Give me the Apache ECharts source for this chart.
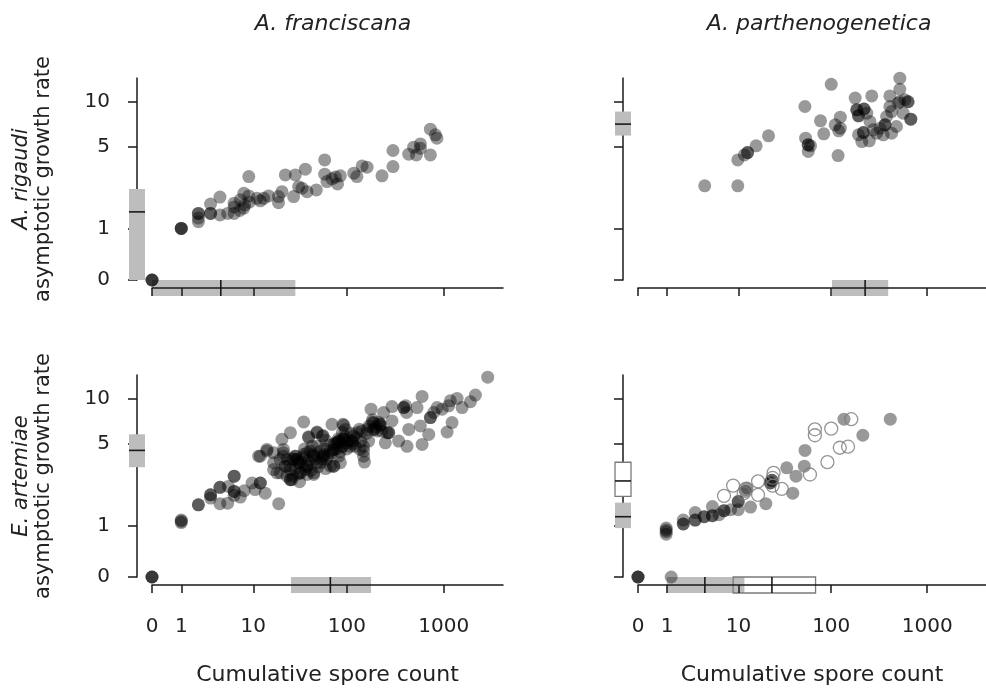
<!DOCTYPE html>
<html>
<head>
<meta charset="utf-8">
<script src="https://cdn.jsdelivr.net/npm/echarts@6/dist/echarts.min.js"></script>
<style>
html, body { margin: 0; padding: 0; background: #fff; }
#chart { width: 986px; height: 691px; }
</style>
</head>
<body>
<div id="chart"></div>
<script>
// tick positions / labels (values on the original scale, plotted as log10(v + 1))
const xTickVals = [0, 1, 10, 100, 1000];
const xTickLabels = ["0", "1", "10", "100", "1000"];
const yTickVals = [0, 1, 5, 10];
const yTickLabels = ["0", "1", "5", "10"];

const colTitles = ["A. franciscana", "A. parthenogenetica"];
const rowTitles = ["A. rigaudi", "E. artemiae"];
const yName = "asymptotic growth rate";
const xName = "Cumulative spore count";

// [cumulative spore count, asymptotic growth rate]
const franRigaudi = [
    [0, 0], [0, 0], [0, 0],
    [1, 1.0], [1, 1.0], [1, 1.0],
    [2, 1.45], [2, 1.45], [2, 1.19], [2, 1.3],
    [3, 1.45], [3, 1.45], [3, 1.78],
    [4, 2.05], [4, 1.4],
    [5, 1.45], [6, 1.45], [6, 1.81], [6, 1.67],
    [7.1, 1.94], [7.8, 2.21], [7.8, 1.63], [7, 1.55], [8, 1.75],
    [8.9, 3.02], [8.9, 2.1], [9, 1.85],
    [11, 2.0], [13.1, 2.0], [14.8, 2.1], [12, 1.9],
    [19, 2.07], [19, 1.83], [20.7, 2.28], [22.5, 3.11],
    [27.6, 2.07], [28.8, 3.11], [31.2, 2.51], [33.9, 2.44], [36.8, 3.44], [38.3, 2.28],
    [48, 2.36], [58.7, 4.03], [58.7, 3.15], [62, 2.76], [75.9, 2.99], [80, 2.64], [85.5, 3.06], [70, 2.9],
    [118, 3.21], [127, 3.02], [144, 3.64], [162, 3.56], [231, 3.06],
    [300, 4.71], [300, 3.6], [436, 4.43], [490, 4.97], [523, 4.38], [575, 5.24], [575, 4.88],
    [729, 4.38], [729, 6.6], [821, 6.05], [850, 5.74]
];

const parthRigaudi = [
    [3.92, 2.55], [9.84, 2.55], [9.84, 4.03], [11.7, 4.38], [12.7, 4.55], [12.7, 4.55], [15.8, 5.08], [21.6, 5.95],
    [52.9, 9.32], [53.8, 5.74], [57.3, 5.16], [57.3, 5.16], [57.3, 4.63], [60.7, 5.08], [77.2, 7.51], [83.5, 6.14],
    [100, 12.9], [110, 7.06], [118, 4.33], [120, 6.44], [124.6, 7.94], [124.6, 6.71],
    [178, 10.55], [185, 8.86], [185, 8.86], [193, 8.1], [193, 8.1], [193, 6.05], [209, 5.44], [217, 6.27], [217, 6.27],
    [220, 8.96], [220, 8.96], [235, 8.43],
    [250, 5.5], [254, 7.43], [265, 10.9], [275, 6.54], [298, 6.21], [323, 6.71], [349, 6.05], [364, 7.06], [364, 7.06], [378, 8.02],
    [409, 10.9], [409, 9.32], [426, 8.64], [426, 6.21], [479, 6.88], [519, 14.1], [519, 12.0], [519, 10.0], [562, 8.43],
    [585, 10.3], [632, 10.0], [632, 10.0], [675, 7.7], [675, 7.7], [499, 9.8]
];

const franArtemiae = [
    [0, 0], [0, 0], [0, 0],
    [1, 1.15], [1, 1.08], [1, 1.12],
    [2, 1.64], [2, 1.64],
    [3, 2.02], [3, 2.02], [3, 1.89],
    [4, 1.68], [4, 2.34], [4, 2.34],
    [5, 1.7], [5.1, 2.38],
    [6, 2.88], [6, 2.88], [6, 2.16], [6, 2.16], [6, 2.0],
    [7.1, 1.93], [7.9, 2.19],
    [9.7, 2.54], [10.5, 2.24], [12, 2.54], [12, 2.54], [13.6, 2.09], [19.1, 1.68],
    [16.8, 3.24], [16.8, 4.31], [11.5, 4.08], [14.2, 4.44], [20.7, 5.37], [25.5, 5.97], [35.3, 7.05],
    [39.8, 5.6], [48.8, 6.03], [56.4, 5.7], [70, 6.8], [91, 6.8], [96.4, 6.28], [118, 5.65],
    [149, 4.8], [152, 3.69], [178, 8.56], [240, 8.14], [250, 5.08], [293, 8.9], [293, 7.16], [343, 5.22],
    [387, 8.77], [387, 8.77], [419, 4.8], [436, 6.28], [531, 8.77], [575, 6.63], [599, 10.35], [599, 4.95],
    [701, 5.81], [729, 7.54], [729, 7.54], [788, 8.14], [854, 8.77], [963, 8.56], [1083, 6.03], [1124, 9.0],
    [1171, 9.7], [1218, 6.98], [1373, 10.04], [1545, 8.77], [1883, 9.56], [2119, 10.56], [2836, 13.7],
    [39.8, 5.52], [48.8, 5.97], [55.6, 5.65], [93, 6.7], [82.6, 5.22], [82.6, 5.22], [113, 5.22], [113, 5.22],
    [143, 6.13], [149, 4.44], [182, 6.98], [205, 6.13], [221, 6.8], [221, 6.8], [271, 5.97], [271, 5.97],
    [405, 9.0], [414, 8.14],
    [21.5, 4.31], [23.5, 3.86], [25.5, 3.24], [26.5, 2.7], [28.8, 4.08], [28.8, 4.08], [31.2, 3.65], [31.2, 3.65],
    [36.7, 3.24], [38.3, 4.31], [43.3, 4.8], [45.1, 3.06], [48.8, 3.65], [57, 4.08], [57, 4.08], [67.5, 3.44],
    [72.9, 4.56], [72.9, 4.56], [82.6, 4.08], [89.5, 4.8], [89.5, 4.8], [100, 5.08], [122, 4.8], [168, 5.22],
    [190, 6.28], [190, 6.28], [22.5, 3.44], [19.9, 3.06],
    [12, 4.08], [14.2, 4.56], [16.8, 3.65], [19.8, 3.86], [21.5, 4.08], [22.5, 3.44], [23.5, 2.88], [18.3, 3.06],
    [25.5, 2.7], [25.5, 2.7], [30, 3.86], [30, 3.86], [32.5, 3.06], [32.5, 3.06], [38.3, 2.97], [45.1, 2.97],
    [53.5, 3.65], [61.9, 3.86], [72.9, 3.44], [72.9, 3.44], [85.6, 3.65], [67.5, 4.44], [79, 5.08], [79, 5.08],
    [92.5, 5.37], [92.5, 5.37], [108, 4.8], [137, 4.56], [149, 4.08], [128, 5.97], [162, 6.28], [190, 6.98],
    [221, 6.63], [260, 5.97], [35.3, 4.2], [41.7, 4.44], [48.8, 4.8], [57, 4.2], [45, 4.08], [45, 4.08],
    [38.3, 3.44], [38.3, 3.44], [27.6, 3.86], [21.5, 4.56],
    [25, 3.5], [27, 3.9], [29, 3.3], [31, 3.0], [33, 3.7], [35, 4.0], [37, 3.5], [40, 3.8], [42, 3.2], [44, 4.2],
    [47, 3.9], [50, 3.4], [52, 4.4], [55, 3.9], [58, 4.6], [60, 3.3], [63, 4.1], [66, 4.9], [70, 4.3], [74, 5.0],
    [78, 4.6], [81, 5.4], [85, 4.4], [88, 5.1], [95, 5.6], [100, 4.6], [105, 5.3], [110, 5.9], [115, 5.0], [125, 5.5],
    [135, 6.3], [140, 5.2], [160, 5.9], [170, 6.6], [185, 7.3], [200, 6.5], [215, 7.0], [230, 6.1], [32, 2.6], [27, 2.9],
    [36, 4.6], [60, 5.3], [90, 6.0]
];

const parthArtemiae = [
    [0, 0], [0, 0], [0, 0], [1.21, 0],
    [0.96, 0.93], [0.96, 0.84], [0.96, 0.78], [0.96, 0.88],
    [1.95, 1.15], [1.95, 1.04], [1.95, 1.04],
    [2.92, 1.38], [2.92, 1.15], [2.92, 1.15],
    [3.86, 1.25], [3.86, 1.25],
    [4.91, 1.58], [4.91, 1.28], [4.91, 1.28],
    [5.93, 1.31], [6.8, 1.44], [6.8, 1.44], [8.14, 1.47], [9.96, 1.47], [9.96, 1.76], [9.96, 1.76],
    [12.5, 2.31], [12, 2.16], [13.7, 1.56], [20.2, 1.68], [22.6, 2.54], [22.6, 2.54], [23.5, 2.67], [23.5, 2.67],
    [33.9, 3.34], [39.3, 2.09], [42.6, 2.88], [52.1, 3.44], [53, 4.49], [136, 7.35], [214, 5.73], [413, 7.35]
];

const parthArtemiaeOpen = [
    [6.8, 1.98], [8.7, 2.42], [11.5, 2.09], [12.1, 2.27], [16.6, 2.62], [16.6, 2.02], [24.5, 3.06], [23.9, 2.79],
    [23.9, 2.42], [30, 2.27], [59.8, 2.97], [67.4, 6.29], [67.4, 5.73], [91.3, 3.69], [100, 6.36], [123, 4.69],
    [150, 4.77], [162, 7.35]
];

// intervals: [direction (0 = growth axis, 1 = spore axis), lower, median, upper, open box]
const franRigaudiBars = [[0, 0, 1.5, 2.4, 0], [1, 0, 4.1, 28.8, 0]];
const parthRigaudiBars = [[0, 5.98, 7.14, 8.64, 0], [1, 102, 226, 393, 0]];
const franArtemiaeBars = [[0, 3.38, 4.49, 5.82, 0], [1, 25.9, 67.3, 178, 0]];
const parthArtemiaeBars = [
    [0, 0.93, 1.25, 1.72, 0], [0, 1.96, 2.64, 3.68, 1],
    [1, 0.99, 3.94, 11.7, 0], [1, 8.7, 23.5, 68.5, 1]
];

const FONT = '"DejaVu Sans", Verdana, sans-serif';
const INK = "#1a1a1a";
const TEXT = "#222";
const X_MAX = 3.61;
const Y_MAX = 1.18;
const X_OFFSET = 8;
const Y_OFFSET = 15;

function toLog(v) {
    return Math.log10(v + 1);
}

function tickLabel(vals, labels) {
    return function (v) {
        const i = vals.findIndex(t => Math.abs(toLog(t) - v) < 1e-6);
        return i >= 0 ? labels[i] : "";
    };
}

function renderBar(params, api) {
    const dir = api.value(0);
    const lo = api.value(1), med = api.value(2), hi = api.value(3);
    const open = api.value(4) === 1;
    const cs = params.coordSys;
    const half = 8;
    let rect, tick;
    if (dir === 0) {
        const ax = cs.x - Y_OFFSET;
        const yHi = api.coord([0, hi])[1];
        const yLo = api.coord([0, lo])[1];
        const yMed = api.coord([0, med])[1];
        rect = { x: ax - half, y: yHi, width: half * 2, height: yLo - yHi };
        tick = { x1: ax - half, y1: yMed, x2: ax + half, y2: yMed };
    } else {
        const ay = cs.y + cs.height + X_OFFSET;
        const xLo = api.coord([lo, 0])[0];
        const xHi = api.coord([hi, 0])[0];
        const xMed = api.coord([med, 0])[0];
        rect = { x: xLo, y: ay - half, width: xHi - xLo, height: half * 2 };
        tick = { x1: xMed, y1: ay - half, x2: xMed, y2: ay + half };
    }
    const rectStyle = open
        ? { fill: dir === 0 ? "#fff" : "none", stroke: "#7a7a7a", lineWidth: 1.3 }
        : { fill: "#bdbdbd" };
    return {
        type: "group",
        children: [
            { type: "rect", shape: rect, style: rectStyle },
            { type: "line", shape: tick, style: { stroke: INK, lineWidth: 1.6 } }
        ]
    };
}

const panels = [
    { grid: { left: 152, top: 78, width: 351, height: 202 }, pts: franRigaudi, open: [], bars: franRigaudiBars },
    { grid: { left: 638, top: 78, width: 351, height: 202 }, pts: parthRigaudi, open: [], bars: parthRigaudiBars },
    { grid: { left: 152, top: 375, width: 351, height: 202 }, pts: franArtemiae, open: [], bars: franArtemiaeBars },
    { grid: { left: 638, top: 375, width: 351, height: 202 }, pts: parthArtemiae, open: parthArtemiaeOpen, bars: parthArtemiaeBars }
];

const grids = [], xAxes = [], yAxes = [], series = [];

panels.forEach((p, i) => {
    const isLeft = i % 2 === 0;
    const isBottom = i >= 2;
    grids.push(p.grid);

    xAxes.push({
        type: "value",
        gridIndex: i,
        min: 0,
        max: X_MAX,
        offset: X_OFFSET,
        splitLine: { show: false },
        axisLine: { onZero: false, lineStyle: { color: INK, width: 1.5 } },
        axisTick: {
            customValues: xTickVals.map(toLog),
            length: 8,
            lineStyle: { color: INK, width: 1.5 }
        },
        axisLabel: {
            show: isBottom,
            customValues: xTickVals.map(toLog),
            formatter: tickLabel(xTickVals, xTickLabels),
            margin: 32,
            fontSize: 20,
            fontFamily: FONT,
            color: TEXT
        },
        name: isBottom ? xName : "",
        nameLocation: "middle",
        nameGap: 79,
        nameTextStyle: { fontSize: 22, fontFamily: FONT, color: TEXT }
    });

    yAxes.push({
        type: "value",
        gridIndex: i,
        min: 0,
        max: Y_MAX,
        offset: Y_OFFSET,
        splitLine: { show: false },
        axisLine: { onZero: false, lineStyle: { color: INK, width: 1.5 } },
        axisTick: {
            customValues: yTickVals.map(toLog),
            length: 9,
            lineStyle: { color: INK, width: 1.5 }
        },
        axisLabel: {
            show: isLeft,
            customValues: yTickVals.map(toLog),
            formatter: tickLabel(yTickVals, yTickLabels),
            margin: 27,
            fontSize: 20,
            fontFamily: FONT,
            color: TEXT
        },
        name: isLeft ? "{sp|" + rowTitles[i / 2] + "}\n{n|" + yName + "}" : "",
        nameLocation: "middle",
        nameRotate: 90,
        nameGap: 82,
        nameTextStyle: {
            color: TEXT,
            rich: {
                sp: { fontStyle: "italic", fontSize: 21, fontFamily: FONT, lineHeight: 22, color: TEXT },
                n: { fontSize: 21, fontFamily: FONT, lineHeight: 22, color: TEXT }
            }
        }
    });

    series.push({
        type: "custom",
        xAxisIndex: i,
        yAxisIndex: i,
        z: -1,
        silent: true,
        renderItem: renderBar,
        data: p.bars.filter(b => b[0] === 1).map(b => [b[0], toLog(b[1]), toLog(b[2]), toLog(b[3]), b[4]])
    });
    series.push({
        type: "custom",
        xAxisIndex: i,
        yAxisIndex: i,
        z: 3,
        silent: true,
        renderItem: renderBar,
        data: p.bars.filter(b => b[0] === 0).map(b => [b[0], toLog(b[1]), toLog(b[2]), toLog(b[3]), b[4]])
    });
    series.push({
        type: "scatter",
        xAxisIndex: i,
        yAxisIndex: i,
        z: 4,
        clip: false,
        symbolSize: 13,
        itemStyle: { color: "rgba(0,0,0,0.5)" },
        data: p.pts.map(d => [toLog(d[0]), toLog(d[1])])
    });
    if (p.open.length) {
        series.push({
            type: "scatter",
            xAxisIndex: i,
            yAxisIndex: i,
            z: 5,
            clip: false,
            symbolSize: 13,
            itemStyle: { color: "rgba(255,255,255,0)", borderColor: "#7a7a7a", borderWidth: 1.3 },
            data: p.open.map(d => [toLog(d[0]), toLog(d[1])])
        });
    }
});

const titleStyle = { fontStyle: "italic", fontWeight: "normal", fontSize: 22, fontFamily: FONT, color: TEXT };

const chart = echarts.init(document.getElementById("chart"));
chart.setOption({
    backgroundColor: "#fff",
    animation: false,
    title: [
        { text: colTitles[0], left: 328, top: 8, textAlign: "center", textStyle: titleStyle },
        { text: colTitles[1], left: 814, top: 8, textAlign: "center", textStyle: titleStyle }
    ],
    grid: grids,
    xAxis: xAxes,
    yAxis: yAxes,
    series: series
});
</script>
</body>
</html>
